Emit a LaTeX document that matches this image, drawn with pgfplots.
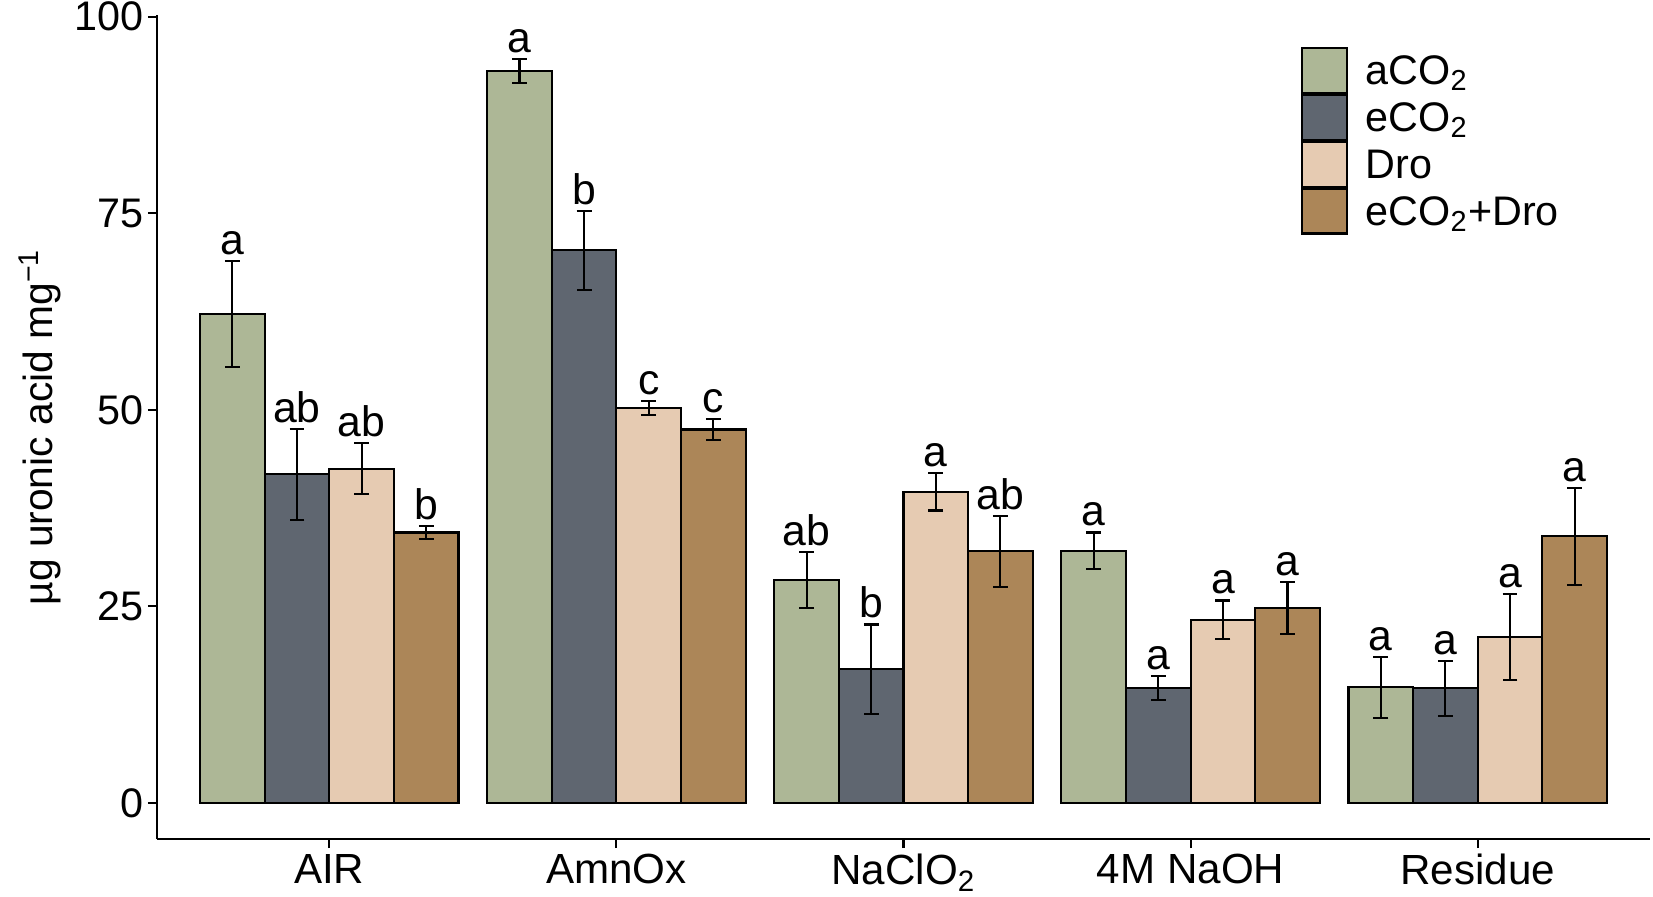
\documentclass[border=0pt]{standalone}
\usepackage{fontspec}
\setmainfont{Liberation Sans}
\usepackage{pgfplots}
\usepackage{pgfplotstable}
\pgfplotsset{compat=1.18}
\definecolor{cA}{HTML}{ADB796}
\definecolor{cE}{HTML}{5F6670}
\definecolor{cD}{HTML}{E6CBB2}
\definecolor{cED}{HTML}{AC8658}
\pgfplotstableread{
x y err lab
1 62.2 6.7 a
2 93.1 1.5 a
3 28.4 3.55 ab
4 32.1 2.3 a
5 14.7 3.9 a
}\tA
\pgfplotstableread{
x y err lab
1 41.8 5.8 ab
2 70.3 5.0 b
3 17.0 5.7 b
4 14.6 1.5 a
5 14.6 3.5 a
}\tE
\pgfplotstableread{
x y err lab
1 42.5 3.25 ab
2 50.2 0.9 c
3 39.6 2.4 a
4 23.3 2.45 a
5 21.1 5.5 a
}\tD
\pgfplotstableread{
x y err lab
1 34.4 0.8 b
2 47.5 1.3 c
3 32.0 4.5 ab
4 24.8 3.3 a
5 33.9 6.2 a
}\tED
\begin{document}
\begin{tikzpicture}
\path[use as bounding box] (-57pt,-20.7pt) rectangle (543pt,304.6pt);
\begin{axis}[
  at={(0,0)}, anchor=south west,
  scale only axis, width=541.9pt, height=299.1pt,
  xmin=0.4, xmax=5.6, ymin=-4.6, ymax=100.2,
  axis lines*=left,
  axis line style={line width=0.75pt},
  tick style={line width=0.75pt, black},
  tick align=outside, major tick length=3.3pt,
  xtick={1,2,3,4,5},
  xticklabels={AIR, AmnOx, NaClO\textsubscript{2}, 4M NaOH, Residue},
  ytick={0,25,50,75,100},
  /pgf/number format/assume math mode=true,
  xticklabel style={font=\fontsize{15.3}{17}\selectfont, yshift=1.3pt},
  yticklabel style={font=\fontsize{15}{17}\selectfont, xshift=2pt},
  ylabel={µg uronic acid mg\textsuperscript{−1}},
  ylabel style={font=\fontsize{14.8}{16}\selectfont, at={(axis description cs:-0.0785,0.5)}, anchor=center, rotate=0},
  ybar, bar width=0.225,
  every axis plot/.append style={draw=black, line width=0.75pt},
  error bars/error bar style={line width=0.75pt, black},
  error bars/error mark options={rotate=90, mark size=2.7pt, line width=0.75pt, black},
  nodes near coords,
  point meta=explicit symbolic,
  nodes near coords align={anchor=base},
  legend image code/.code={\draw[#1,draw=black,line width=0.75pt] (0pt,-3.05pt) rectangle (16.3pt,13.25pt);},
  legend style={at={(rel axis cs:0.7657,0.9624)}, anchor=north west, draw=none, fill=none,
    inner sep=0pt, font=\fontsize{15}{17}\selectfont,
    nodes={inner sep=0pt, anchor=base west},
    /tikz/every odd column/.append style={column sep=6.5pt}},
  legend cell align=left,
]
\addplot[fill=cA, bar shift=-0.3375,
  error bars/.cd, y dir=both, y explicit,
  /pgfplots/.cd,
  visualization depends on={\thisrow{err}\as\myerr},
  nodes near coords style={font=\fontsize{15.5}{17}\selectfont, inner sep=0pt, shift={(axis direction cs:0,\myerr)}, yshift=2.4pt}]
  table[x=x, y=y, y error=err, meta=lab] {\tA};
\addlegendentry{aCO\textsubscript{2}}
\addplot[fill=cE, bar shift=-0.1125,
  error bars/.cd, y dir=both, y explicit,
  /pgfplots/.cd,
  visualization depends on={\thisrow{err}\as\myerr},
  nodes near coords style={font=\fontsize{15.5}{17}\selectfont, inner sep=0pt, shift={(axis direction cs:0,\myerr)}, yshift=2.4pt}]
  table[x=x, y=y, y error=err, meta=lab] {\tE};
\addlegendentry{eCO\textsubscript{2}}
\addplot[fill=cD, bar shift=0.1125,
  error bars/.cd, y dir=both, y explicit,
  /pgfplots/.cd,
  visualization depends on={\thisrow{err}\as\myerr},
  nodes near coords style={font=\fontsize{15.5}{17}\selectfont, inner sep=0pt, shift={(axis direction cs:0,\myerr)}, yshift=2.4pt}]
  table[x=x, y=y, y error=err, meta=lab] {\tD};
\addlegendentry{Dro}
\addplot[fill=cED, bar shift=0.3375,
  error bars/.cd, y dir=both, y explicit,
  /pgfplots/.cd,
  visualization depends on={\thisrow{err}\as\myerr},
  nodes near coords style={font=\fontsize{15.5}{17}\selectfont, inner sep=0pt, shift={(axis direction cs:0,\myerr)}, yshift=2.4pt}]
  table[x=x, y=y, y error=err, meta=lab] {\tED};
\addlegendentry{eCO\textsubscript{2}+Dro}
\end{axis}
\end{tikzpicture}
\end{document}
